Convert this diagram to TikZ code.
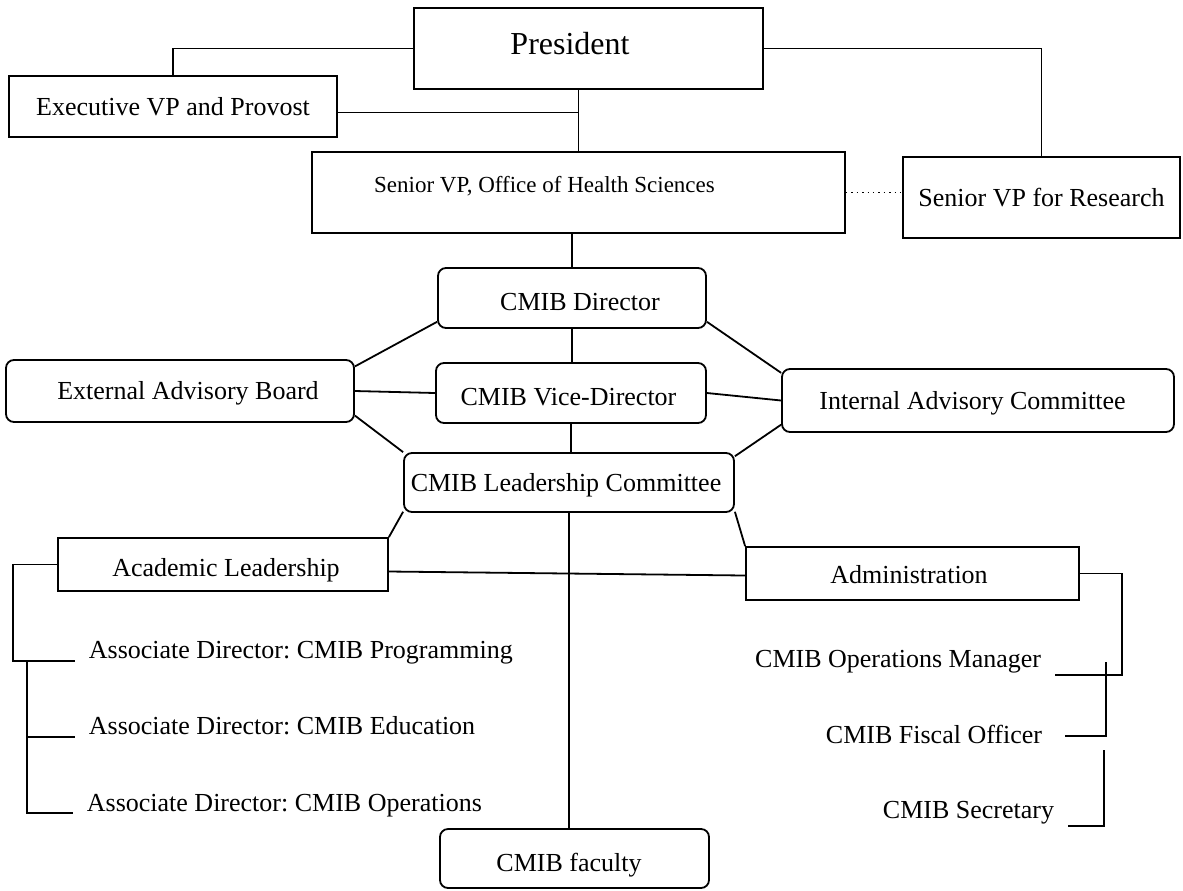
\documentclass[tikz,border=0pt]{standalone}
\usepackage{fontspec}
\setmainfont{Liberation Serif}
\frenchspacing
\begin{document}
\begin{tikzpicture}[x=0.5pt,y=-0.5pt, line width=0.9pt,
  every node/.style={font=\fontsize{13}{15}\selectfont},
  sq/.style={draw, rectangle, inner sep=0pt},
  rr/.style={draw, rectangle, rounded corners=4pt, inner sep=0pt},
  plain/.style={inner sep=0pt}]
\useasboundingbox (0,0) rectangle (1183,890);

% boxes
\node[sq, minimum width=174.5pt, minimum height=40.5pt,
  label={[xshift=-9.25pt,yshift=2.25pt,font=\fontsize{16}{19}\selectfont]center:President}] (pres) at (588.5,48.5) {};
\node[sq, minimum width=164pt, minimum height=30.5pt] (evp) at (173,106.5) {Executive VP and Provost};
\node[sq, minimum width=266.5pt, minimum height=40.5pt,
  label={[xshift=-17pt,yshift=3pt,font=\fontsize{11.5}{14}\selectfont]center:{Senior VP, Office of Health Sciences}}] (health) at (578.5,192.5) {};
\node[sq, minimum width=138.5pt, minimum height=40.5pt] (research) at (1041.5,197.5) {Senior VP for Research};

\node[rr, minimum width=134pt, minimum height=30pt,
  label={[xshift=4pt,yshift=-2pt]center:CMIB Director}] (dir) at (572,298) {};
\node[rr, minimum width=174pt, minimum height=31pt,
  label={[xshift=4pt,yshift=-1pt]center:External Advisory Board}] (eab) at (180,391) {};
\node[rr, minimum width=135pt, minimum height=30pt,
  label={[xshift=-1.25pt,yshift=-2pt]center:CMIB Vice-Director}] (vice) at (571,393) {};
\node[rr, minimum width=196pt, minimum height=31.5pt,
  label={[xshift=-2.75pt,yshift=-1.25pt]center:Internal Advisory Committee}] (iac) at (978,400.5) {};
\node[rr, minimum width=165pt, minimum height=29.5pt,
  label={[xshift=-1.5pt,yshift=-1.25pt]center:CMIB Leadership Committee}] (lead) at (569,482.5) {};
\node[sq, minimum width=165pt, minimum height=26.5pt,
  label={[xshift=1.5pt,yshift=-2.75pt]center:Academic Leadership}] (al) at (223,564.5) {};
\node[sq, minimum width=166.5pt, minimum height=26.5pt,
  label={[xshift=-1.75pt,yshift=-0.75pt]center:Administration}] (adm) at (912.5,573.5) {};
\node[rr, minimum width=134.5pt, minimum height=29.5pt,
  label={[xshift=-2.75pt,yshift=-3.25pt]center:CMIB faculty}] (fac) at (574.5,858.5) {};

% plain texts
\node[plain, anchor=base west] (ad1) at (88,658) {Associate Director: CMIB Programming};
\node[plain, anchor=base west] (ad2) at (88,734) {Associate Director: CMIB Education};
\node[plain, anchor=base west] (ad3) at (86,811) {Associate Director: CMIB Operations};
\node[plain, anchor=base east] (om) at (1042,667) {CMIB Operations Manager};
\node[plain, anchor=base east] (fo) at (1043,743) {CMIB Fiscal Officer};
\node[plain, anchor=base east] (sec) at (1055,818) {CMIB Secretary};

% coordinates
\coordinate (e1) at ([yshift=-3pt]evp.east);
\coordinate (a1) at ([yshift=-3.5pt]al.east);
\coordinate (a2) at ([yshift=-1pt]adm.west);
\coordinate (p1) at (75,661);
\coordinate (p2) at (75,737);
\coordinate (p3) at (73,813);
\coordinate (lx) at (13,661);
\coordinate (q1) at (27,661);
\coordinate (q2) at (27,737);
\coordinate (r1) at (1055,675);
\coordinate (rx) at (1122,675);
\coordinate (r2t) at (1106,662);
\coordinate (r2) at (1065,736);
\coordinate (r3t) at (1104,750);
\coordinate (r3) at (1068,826);

% top connectors
\draw (pres.west) -| (evp.north);
\draw (pres.east) -| (research.north);
\draw (health.north |- pres.south) -- (health.north);
\draw (e1) -- (e1 -| health.north);
\draw[dotted, line width=0.7pt] (health.east) -- (health.east -| research.west);
\draw (dir.north |- health.south) -- (dir.north);

% middle
\draw (dir.south) -- (dir.south |- vice.north);
\draw (vice.south) -- (vice.south |- lead.north);
\draw (lead.south) -- (lead.south |- fac.north);
\draw (dir.190) -- (eab.8);
\draw (eab.east) -- (vice.west);
\draw (eab.-8) -- (lead.north west);
\draw (dir.-10) -- (iac.172);
\draw (vice.east) -- (iac.west);
\draw (lead.9) -- (iac.-173);
\draw (lead.-170) -- (al.north east);
\draw (lead.-10) -- (adm.north west);
\draw (a1) -- (a2);

% brackets
\draw (al.west) -| (lx) -- (p1);
\draw (q1) |- (p3);
\draw (q2) -- (p2);
\draw (adm.east) -| (rx) -- (r1);
\draw (r2t) |- (r2);
\draw (r3t) |- (r3);
\end{tikzpicture}
\end{document}
